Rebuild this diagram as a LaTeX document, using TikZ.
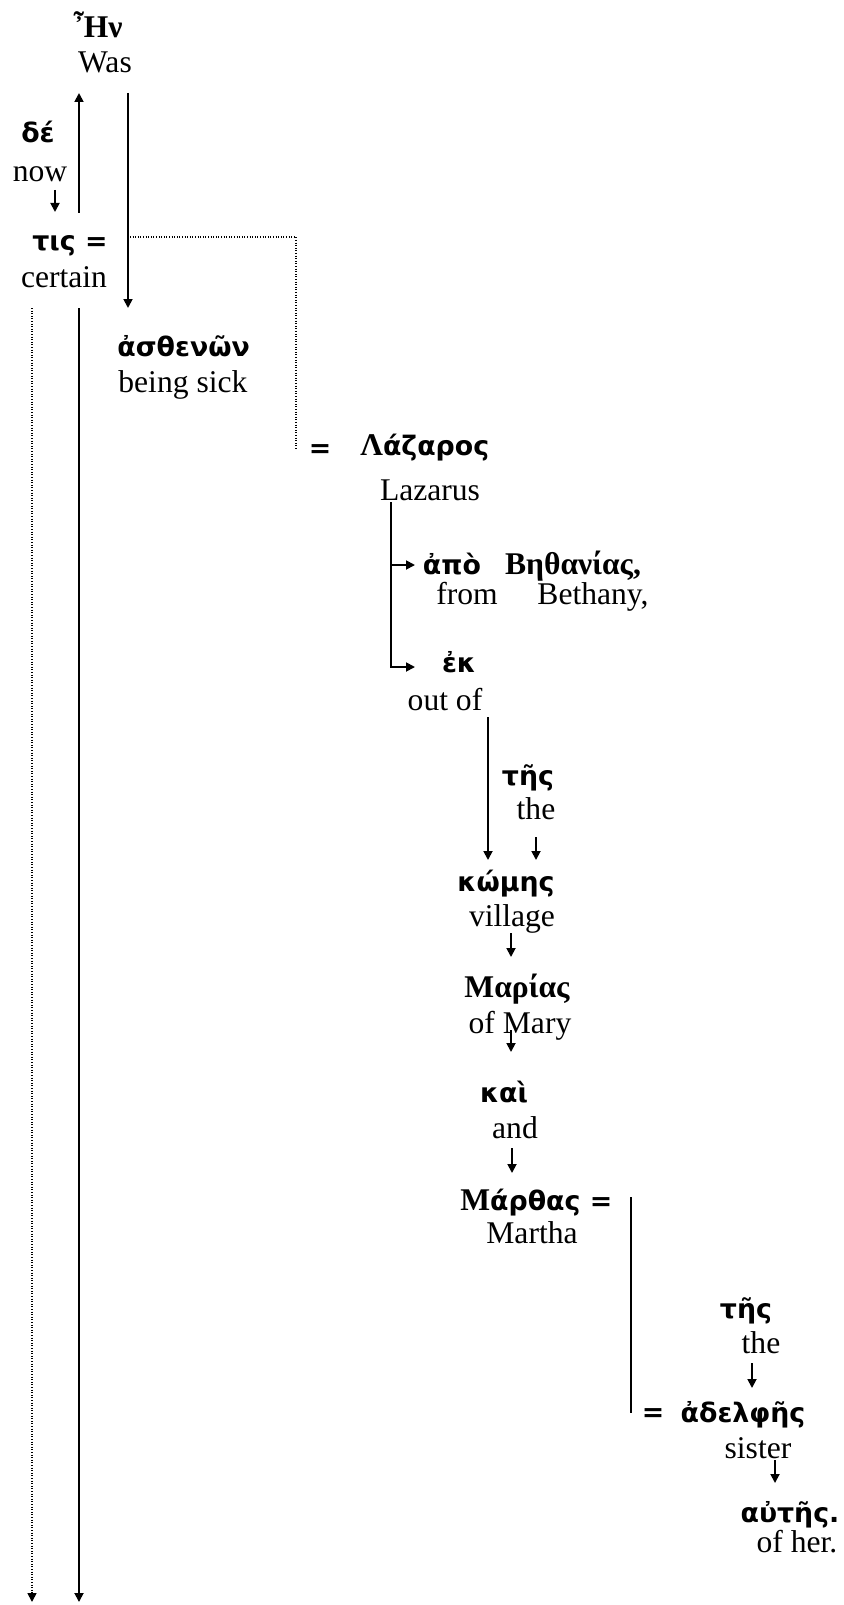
\documentclass[tikz,border=0pt]{standalone}
\usepackage{fontspec}
\setmainfont{Liberation Serif}
\newfontfamily\grsans{DejaVu Sans}
\usetikzlibrary{arrows.meta}

% serif Greek capitals inside the sans Greek words
\newcommand{\sr}[1]{{\fontspec{Liberation Serif}\bfseries\fontsize{15.8}{19}\selectfont #1}}

\begin{document}
\begin{tikzpicture}[
    x=0.5pt, y=-0.5pt,
    gk/.style={font=\grsans\bfseries\fontsize{13.4}{16}\selectfont, inner sep=0, anchor=base},
    gs/.style={font=\bfseries\fontsize{15.8}{19}\selectfont, inner sep=0, anchor=base},
    en/.style={font=\fontsize{15.8}{19}\selectfont, inner sep=0, anchor=base},
    arrow/.style={-{Triangle[length=4.5pt, width=4.5pt]}, line width=0.9pt},
    guide/.style={line width=0.8pt, dash pattern=on 0.5pt off 0.8pt}
]
    \useasboundingbox (0,0) rectangle (844,1605);

    % Subject and verb
    \node[gs] (hen) at (98,38) {Ἦν};
    \node[en] (was) at (105,73) {Was};
    \node[gk] (de) at (38,143) {δέ};
    \node[en] (now) at (40,182) {now};
    \node[gk] (tis) at (70,250) {τις =};
    \node[en] (certain) at (64,287) {certain};
    \node[gk, anchor=base west] (asthenon) at (117,356) {ἀσθενῶν};
    \node[en, anchor=base west] (sick) at (118,392) {being sick};

    % Lazarus and where he is from
    \node[gk] (eqa) at (320,457) {=};
    \node[gk, anchor=base west] (lazaros) at (360,455) {\sr{Λ}άζαρος};
    \node[en] (lazarus) at (430,500) {Lazarus};
    \node[gk] (apo) at (452,574) {ἀπὸ};
    \node[gs] (bethanias) at (573,574) {Βηθανίας,};
    \node[en] (from) at (467,604) {from};
    \node[en] (bethany) at (593,604) {Bethany,};
    \node[gk] (ek) at (459,672) {ἐκ};
    \node[en] (outof) at (445,710) {out of};

    % The village of Mary and Martha
    \node[gk] (tesa) at (528,785) {τῆς};
    \node[en] (thea) at (536,819) {the};
    \node[gk] (komes) at (506,891) {κώμης};
    \node[en] (village) at (512,926) {village};
    \node[gs] (marias) at (517,997) {Μαρίας};
    \node[en] (mary) at (520,1033) {of Mary};
    \node[gk] (kai) at (504,1102) {καὶ};
    \node[en] (and) at (515,1138) {and};
    \node[gk, anchor=base west] (marthas) at (460,1210) {\sr{Μ}άρθας =};
    \node[en] (martha) at (532,1243) {Martha};

    % Her sister
    \node[gk] (tesb) at (746,1318) {τῆς};
    \node[en] (theb) at (761,1353) {the};
    \node[gk] (eqb) at (653,1421) {=};
    \node[gk] (adelphes) at (743,1422) {ἀδελφῆς};
    \node[en] (sister) at (758,1458) {sister};
    \node[gk] (autes) at (790,1522) {αὐτῆς.};
    \node[en] (ofher) at (797,1552) {of her.};

    % Line ends
    \coordinate (upA) at (79,213);   \coordinate (upB) at (79,93);
    \coordinate (dnA) at (128,93);   \coordinate (dnB) at (128,308);
    \coordinate (deA) at (55,190);   \coordinate (deB) at (55,212);
    \coordinate (eqA) at (130,237);  \coordinate (eqB) at (296,450);
    \coordinate (dotA) at (32,308);  \coordinate (dotB) at (32,1602);
    \coordinate (mainA) at (79,308); \coordinate (mainB) at (79,1602);
    \coordinate (brA) at (391,502);  \coordinate (brB) at (415,565);
    \coordinate (brC) at (415,667);
    \coordinate (ekA) at (488,717);  \coordinate (ekB) at (488,860);
    \coordinate (ttA) at (536,837);  \coordinate (ttB) at (536,860);
    \coordinate (vgA) at (511,933);  \coordinate (vgB) at (511,957);
    \coordinate (myA) at (511,1030); \coordinate (myB) at (511,1052);
    \coordinate (adA) at (512,1148); \coordinate (adB) at (512,1173);
    \coordinate (mtA) at (631,1197); \coordinate (mtB) at (631,1413);
    \coordinate (thA) at (752,1363); \coordinate (thB) at (752,1388);
    \coordinate (ssA) at (775,1460); \coordinate (ssB) at (775,1483);

    % Arrows
    \draw[arrow] (upA) -- (upB);
    \draw[arrow] (dnA) -- (dnB);
    \draw[arrow] (deA) -- (deB);
    \draw[guide] (eqA) -| (eqB);
    \draw[guide, -{Triangle[length=4.5pt, width=4.5pt]}] (dotA) -- (dotB);
    \draw[arrow] (mainA) -- (mainB);
    \draw[arrow] (brA) |- (brC);
    \draw[arrow] (brA |- brB) -- (brB);
    \draw[arrow] (ekA) -- (ekB);
    \draw[arrow] (ttA) -- (ttB);
    \draw[arrow] (vgA) -- (vgB);
    \draw[arrow] (myA) -- (myB);
    \draw[arrow] (adA) -- (adB);
    \draw[line width=0.9pt] (mtA) -- (mtB);
    \draw[arrow] (thA) -- (thB);
    \draw[arrow] (ssA) -- (ssB);

\end{tikzpicture}
\end{document}
